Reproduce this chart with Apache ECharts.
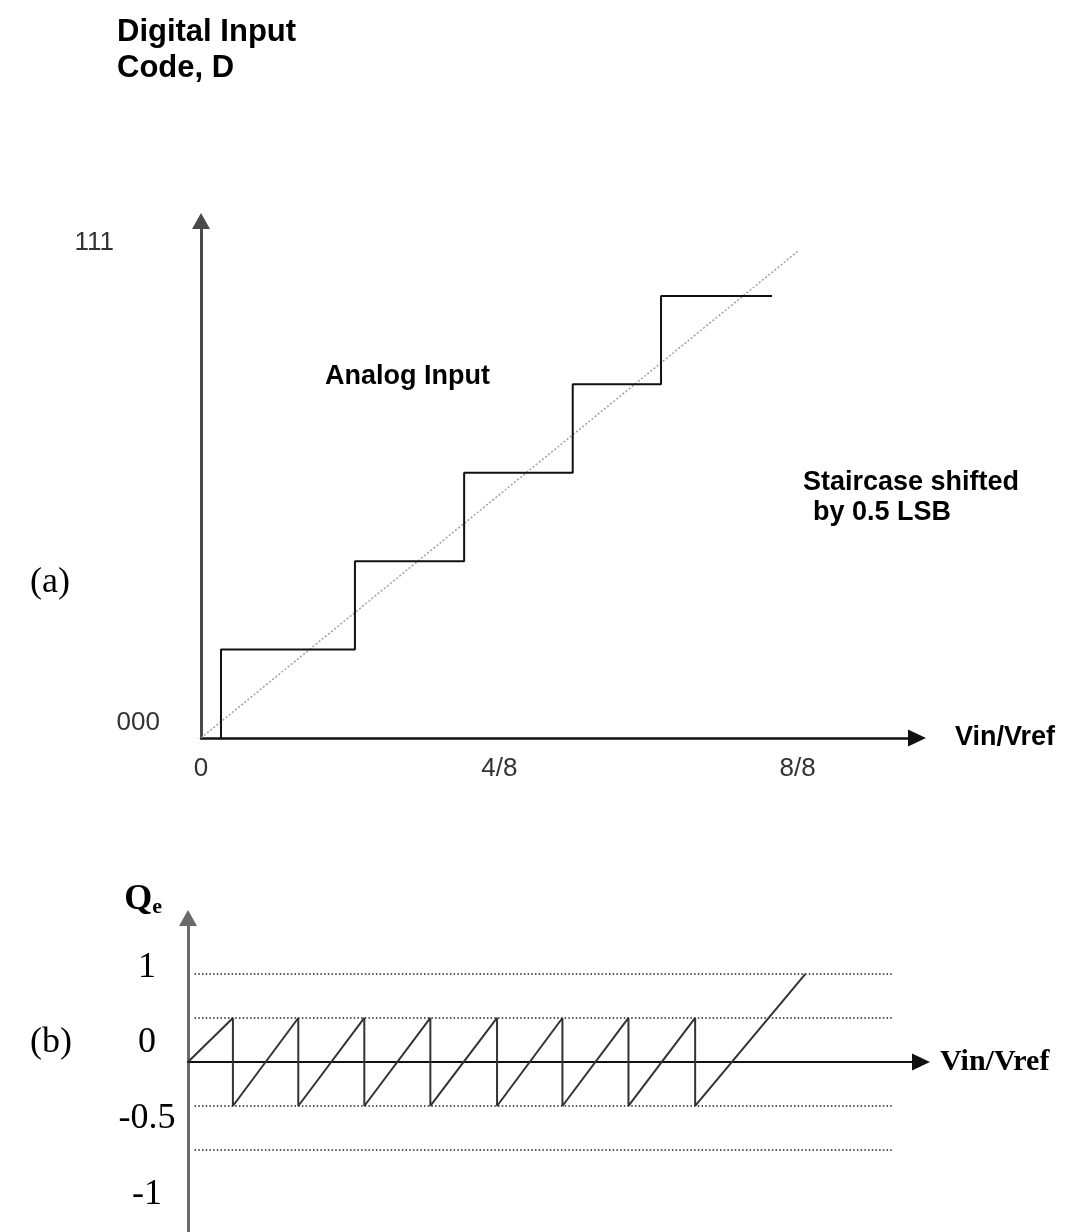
<!DOCTYPE html>
<html><head><meta charset="utf-8">
<script src="https://cdn.jsdelivr.net/npm/echarts@6/dist/echarts.min.js"></script>
<style>html,body{margin:0;padding:0;background:#fff}#c{width:1071px;height:1232px}</style>
</head><body><div id="c"></div>
<script>
// ---------- (a) ADC transfer characteristic ----------
const codeTickValues = [0, 7];
const codeTickLabels = ['000', '111'];
const vinTickValues = [0, 0.5, 1];
const vinTickLabels = ['0', '4/8', '8/8'];
const stairRiseX = [0.0335, 0.258, 0.441, 0.623, 0.771];
const stairLevels = [1.25, 2.5, 3.75, 5.0, 6.25];
const stairEndX = 0.957;
const analogInput = [[0, 0], [1.0, 6.88]];

// ---------- (b) quantization error ----------
const qeDropX = [0.68, 1.67, 2.67, 3.67, 4.68, 5.67, 6.67, 7.68];
const qeHigh = 0.5;
const qeLow = -0.5;
const qeRampEnd = [9.35, 1];
const qeGridLevels = [1, 0.5, -0.5, -1];
const qeGridStartX = 0.1;
const qeGridEndX = 10.67;
const qeTickValues = [0, 1, 2, 3];
const qeTickLabels = ['-1', '-0.5', '0', '1'];

// build polylines from the values
const stair = [];
let prev = 0;
stairRiseX.forEach((x, i) => { stair.push([x, prev]); stair.push([x, stairLevels[i]]); prev = stairLevels[i]; });
stair.push([stairEndX, prev]);

const saw = [[0, 0]];
qeDropX.forEach(x => { saw.push([x, qeHigh]); saw.push([x, qeLow]); });
saw.push(qeRampEnd);

const SANS = 'Liberation Sans';
const SERIF = 'Liberation Serif';

const gridSeries = qeGridLevels.map(l => ({
  type: 'line', xAxisIndex: 1, yAxisIndex: 1, silent: true, showSymbol: false,
  data: [[qeGridStartX, l], [qeGridEndX, l]],
  lineStyle: { color: '#222', width: 1.6, type: [1.5, 2.2] }, z: 1
}));

const chart = echarts.init(document.getElementById('c'), null, { renderer: 'canvas' });
chart.setOption({
  backgroundColor: '#fff',
  animation: false,
  grid: [
    { left: 201, right: 154, top: 221, bottom: 494, outerBoundsMode: 'none', containLabel: false },
    { left: 188, right: 150, top: 918, bottom: 0, outerBoundsMode: 'none', containLabel: false }
  ],
  xAxis: [
    {
      gridIndex: 0, type: 'value', min: 0, max: 1.2,
      axisLine: { symbol: ['none', 'triangle'], symbolSize: [17, 18], lineStyle: { color: '#111', width: 2.5 } },
      axisTick: { show: false }, splitLine: { show: false },
      axisLabel: {
        customValues: vinTickValues,
        formatter: v => vinTickLabels[vinTickValues.indexOf(v)],
        margin: 18, fontSize: 26, color: '#333', fontFamily: SANS
      },
      name: 'Vin/Vref', nameLocation: 'end', nameGap: 38,
      nameTextStyle: { fontSize: 27, fontWeight: 'bold', color: '#000', fontFamily: SANS, padding: [0, 0, 20, 0] }
    },
    {
      gridIndex: 1, type: 'value', min: 0, max: 11.1,
      axisLine: { onZeroAxisIndex: 1, symbol: ['none', 'triangle'], symbolSize: [17, 18], lineStyle: { color: '#111', width: 2 } },
      axisTick: { show: false }, splitLine: { show: false }, axisLabel: { show: false },
      name: 'Vin/Vref', nameLocation: 'end', nameGap: 19,
      nameTextStyle: { fontSize: 30, fontWeight: 'bold', color: '#000', fontFamily: SERIF, padding: [0, 0, 26, 0] }
    }
  ],
  yAxis: [
    {
      gridIndex: 0, type: 'value', min: 0, max: 7.31,
      axisLine: { symbol: ['none', 'triangle'], symbolSize: [18, 16], lineStyle: { color: '#4a4a4a', width: 3 } },
      axisTick: { show: false }, splitLine: { show: false },
      axisLabel: {
        customValues: codeTickValues,
        formatter: v => v === 0 ? '{lo|' + codeTickLabels[0] + '}\n\u00a0' : '{hi|' + codeTickLabels[1] + '}',
        margin: 41, fontSize: 26, color: '#333', fontFamily: SANS, lineHeight: 30,
        rich: {
          lo: { fontSize: 26, color: '#333', fontFamily: SANS, lineHeight: 30 },
          hi: { fontSize: 26, color: '#333', fontFamily: SANS, padding: [0, 46, 0, 0] }
        }
      },
      name: '{t|Digital Input}\n{t|Code, D}', nameLocation: 'end', nameGap: 135,
      nameTextStyle: {
        align: 'center', padding: [0, 0, 0, 18],
        rich: { t: { width: 186, align: 'left', fontSize: 31, fontWeight: 'bold', color: '#000', fontFamily: SANS, lineHeight: 36 } }
      }
    },
    {
      gridIndex: 1, type: 'value', min: -1.932, max: 1.636,
      axisLine: { symbol: ['none', 'triangle'], symbolSize: [18, 16], lineStyle: { color: '#6a6a6a', width: 3 } },
      axisTick: { show: false }, splitLine: { show: false }, axisLabel: { show: false },
      name: '{q|Q}{e|e}', nameLocation: 'end', nameGap: 0,
      nameTextStyle: {
        align: 'right', verticalAlign: 'bottom', padding: [0, 26, 0, 0],
        rich: {
          q: { fontSize: 36, fontWeight: 'bold', fontFamily: SERIF, color: '#000' },
          e: { fontSize: 22, fontWeight: 'bold', fontFamily: SERIF, color: '#000', verticalAlign: 'bottom' }
        }
      }
    },
    {
      gridIndex: 1, type: 'value', min: -0.5, max: 3.65, position: 'right', offset: -774,
      axisLine: { show: false, onZero: false }, axisTick: { show: false }, splitLine: { show: false },
      axisLabel: {
        customValues: qeTickValues,
        formatter: v => qeTickLabels[v],
        align: 'center', margin: 0, fontSize: 36, color: '#000', fontFamily: SERIF
      }
    }
  ],
  graphic: [
    { type: 'text', x: 30, y: 583, style: { text: '(a)', fontSize: 36, fontFamily: SERIF, fill: '#000', textAlign: 'left', textVerticalAlign: 'middle' } },
    { type: 'text', x: 30, y: 1043, style: { text: '(b)', fontSize: 36, fontFamily: SERIF, fill: '#000', textAlign: 'left', textVerticalAlign: 'middle' } },
    { type: 'text', x: 325, y: 377, style: { text: 'Analog Input', fontSize: 27, fontWeight: 'bold', fontFamily: SANS, fill: '#000', textAlign: 'left', textVerticalAlign: 'middle' } },
    { type: 'text', x: 803, y: 483, style: { text: 'Staircase shifted', fontSize: 27, fontWeight: 'bold', fontFamily: SANS, fill: '#000', textAlign: 'left', textVerticalAlign: 'middle' } },
    { type: 'text', x: 813, y: 513, style: { text: 'by 0.5 LSB', fontSize: 27, fontWeight: 'bold', fontFamily: SANS, fill: '#000', textAlign: 'left', textVerticalAlign: 'middle' } }
  ],
  series: [
    {
      type: 'line', xAxisIndex: 0, yAxisIndex: 0, silent: true, showSymbol: false,
      data: analogInput, lineStyle: { color: '#a0a0a0', width: 1.5, type: [2, 2] }, z: 1
    },
    {
      type: 'line', xAxisIndex: 0, yAxisIndex: 0, silent: true, showSymbol: false,
      data: stair, lineStyle: { color: '#111', width: 2 }, z: 2
    },
    ...gridSeries,
    {
      type: 'line', xAxisIndex: 1, yAxisIndex: 1, silent: true, showSymbol: false,
      data: saw, lineStyle: { color: '#333', width: 2 }, z: 3
    }
  ]
});
</script>
</body></html>
